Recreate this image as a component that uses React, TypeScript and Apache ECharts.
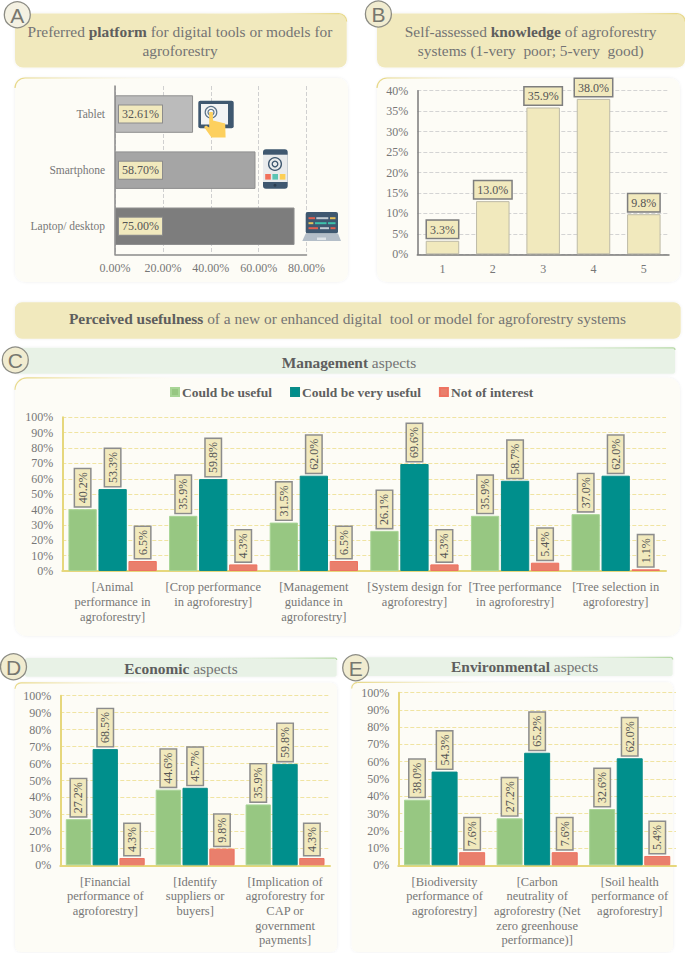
import React, { useEffect, useRef } from "react";
import * as echarts from "echarts";

const SERIF = "'Liberation Serif', 'Times New Roman', serif";
const SANS = "'Liberation Sans', Arial, sans-serif";

const platformCategories = ["Laptop/ desktop", "Smartphone", "Tablet"];
const platformValues = [75.0, 58.7, 32.61];
const platformTicks = [0, 20, 40, 60, 80];
const platformColors = ["#7d7d7d", "#a5a5a5", "#bbbbbb"];

const knowledgeCategories = ["1", "2", "3", "4", "5"];
const knowledgeValues = [3.3, 13.0, 35.9, 38.0, 9.8];

const seriesNames = ["Could be useful", "Could be very useful", "Not of interest"];
const seriesColors = ["#97c782", "#008f8c", "#e97f6c"];
const seriesBorders = ["#a8d596", "#0a8c88", "#ee7361"];

const managementCategories = [
  "[Animal\nperformance in\nagroforestry]",
  "[Crop performance\nin agroforestry]",
  "[Management\nguidance in\nagroforestry]",
  "[System design for\nagroforestry]",
  "[Tree performance\nin agroforestry]",
  "[Tree selection in\nagroforestry]",
];
const managementUseful = [40.2, 35.9, 31.5, 26.1, 35.9, 37.0];
const managementVeryUseful = [53.3, 59.8, 62.0, 69.6, 58.7, 62.0];
const managementNot = [6.5, 4.3, 6.5, 4.3, 5.4, 1.1];

const economicCategories = [
  "[Financial\nperformance of\nagroforestry]",
  "[Identify\nsuppliers or\nbuyers]",
  "[Implication of\nagroforestry for\nCAP or\ngovernment\npayments]",
];
const economicUseful = [27.2, 44.6, 35.9];
const economicVeryUseful = [68.5, 45.7, 59.8];
const economicNot = [4.3, 9.8, 4.3];

const environmentalCategories = [
  "[Biodiversity\nperformance of\nagroforestry]",
  "[Carbon\nneutrality of\nagroforestry (Net\nzero greenhouse\nperformance)]",
  "[Soil health\nperformance of\nagroforestry]",
];
const environmentalUseful = [38.0, 27.2, 32.6];
const environmentalVeryUseful = [54.3, 65.2, 62.0];
const environmentalNot = [7.6, 7.6, 5.4];

const CREAM = "#f1e9bd";
const GREY_TEXT = "#777777";
const TITLE_TEXT = "#747474";

const rich = {
  n: { fontFamily: SERIF, fontSize: 15.4, fill: TITLE_TEXT, lineHeight: 19 },
  b: { fontFamily: SERIF, fontSize: 15.4, fill: "#5e5e5e", fontWeight: "bold", lineHeight: 19 },
};

function titleText(x: number, y: number, text: string) {
  return {
    type: "text",
    z: 5,
    style: { x, y, text, rich, align: "center", verticalAlign: "middle", fontFamily: SERIF, fontSize: 15.4, fill: TITLE_TEXT },
  };
}

function box(x: number, y: number, w: number, h: number, fill: string, r: number, z = -10, shadow = "rgba(0,0,0,0.07)") {
  return {
    type: "rect",
    z,
    shape: { x, y, width: w, height: h, r },
    style: { fill, shadowBlur: 3, shadowColor: shadow },
  };
}

function edge(x1: number, x2: number, y: number, color: string, fromLeft: boolean) {
  const stops = fromLeft
    ? [{ offset: 0, color }, { offset: 1, color: "rgba(255,255,255,0)" }]
    : [{ offset: 0, color: "rgba(255,255,255,0)" }, { offset: 1, color }];
  return {
    type: "line",
    z: -9,
    shape: { x1, y1: y, x2, y2: y },
    style: {
      lineWidth: 1.2,
      stroke: new echarts.graphic.LinearGradient(x1, y, x2, y, stops, true),
    },
  };
}

function corner(cx: number, cy: number, rad: number, color: string, leftSide: boolean) {
  return {
    type: "arc",
    z: -9,
    shape: leftSide
      ? { cx, cy, r: rad, startAngle: Math.PI, endAngle: 1.5 * Math.PI, clockwise: true }
      : { cx, cy, r: rad, startAngle: 1.5 * Math.PI, endAngle: 2 * Math.PI, clockwise: true },
    style: { fill: "none", stroke: color, lineWidth: 1.2 },
  };
}

function badge(cx: number, cy: number, letter: string, fill: string) {
  return [
    {
      type: "circle",
      z: 6,
      shape: { cx, cy, r: 13 },
      style: { fill, stroke: "#8c8c84", lineWidth: 1.3 },
    },
    {
      type: "text",
      z: 7,
      style: {
        x: cx,
        y: cy + 0.5,
        text: letter,
        align: "center",
        verticalAlign: "middle",
        fontFamily: SANS,
        fontSize: 21,
        fill: "#77776f",
      },
    },
  ];
}

function r(x: number, y: number, w: number, h: number, fill: string, rad = 0) {
  return { type: "rect", z: 10, shape: { x, y, width: w, height: h, r: rad }, style: { fill } };
}

const NAVY = "#3f5870";

function icons() {
  return [
    // tablet
    r(198.3, 100.7, 35.4, 27.6, NAVY, 2),
    r(201, 104, 27, 20.5, "#f3f4f4"),
    { type: "circle", z: 11, shape: { cx: 211, cy: 112.3, r: 5.8 }, style: { fill: "none", stroke: "#5b7288", lineWidth: 1.2 } },
    { type: "circle", z: 11, shape: { cx: 211, cy: 112.3, r: 3 }, style: { fill: "none", stroke: "#5b7288", lineWidth: 1.2 } },
    {
      type: "polygon",
      z: 12,
      shape: {
        points: [[209.2, 112], [212.8, 112], [213, 120.5], [225.2, 123.5], [225.6, 137.5], [211.5, 137.5], [204, 127], [206, 125.5], [209.2, 127.5]],
      },
      style: { fill: "#fdd05e" },
    },
    // phone
    r(263, 149.3, 24.7, 39.4, NAVY, 3),
    r(263, 154.7, 24.7, 27.3, "#e9ebec"),
    { type: "circle", z: 11, shape: { cx: 275, cy: 164, r: 6.4 }, style: { fill: "none", stroke: NAVY, lineWidth: 1.3 } },
    { type: "circle", z: 11, shape: { cx: 275, cy: 164, r: 2.8 }, style: { fill: "none", stroke: NAVY, lineWidth: 1.3 } },
    r(265.2, 174, 5.6, 5.6, "#f2705a"),
    r(272.4, 174, 5.6, 5.6, "#5cc4b4"),
    r(279.8, 174, 5.6, 5.6, "#fccf55"),
    { type: "circle", z: 11, shape: { cx: 275, cy: 185.3, r: 1.5 }, style: { fill: "#2c3e50" } },
    // laptop
    r(305.7, 212, 32.3, 21.5, NAVY, 2),
    { type: "polygon", z: 10, shape: { points: [[305.7, 233.5], [338, 233.5], [341, 241], [302.3, 241]] }, style: { fill: "#b4bec8" } },
    r(317, 237.5, 9, 2.5, "#dfe4e8"),
    r(308.5, 217.2, 6.5, 2, "#e2604f"),
    r(316.3, 217.2, 12, 2, "#c3ccd3"),
    r(330, 217.2, 5.5, 2, "#e8c25a"),
    r(308.5, 222.2, 4.8, 2, "#e8c25a"),
    r(315, 222.2, 11.5, 2, "#3ec2ac"),
    r(328, 222.2, 7.5, 2, "#3ec2ac"),
    r(308.5, 227.2, 9.5, 2, "#e2604f"),
    r(320, 227.2, 9, 2, "#c3ccd3"),
    r(330.5, 227.2, 5, 2, "#e2604f"),
  ];
}

function decor() {
  const panel = "#fdfcf6";
  const gold = "#e8d98a";
  const green = "#b6d9a6";
  const mint = "#e8f2e6";
  return [
    // A
    box(15, 13.5, 331.7, 54, CREAM, 8),
    edge(200, 339, 13.6, gold, false),
    corner(338.7, 21.5, 8, gold, false),
    box(15, 78, 333, 204, panel, 10),
    edge(25, 190, 78, gold, true),
    corner(25, 88, 10, gold, true),
    ...badge(17.3, 14.7, "A", "#f4f1e2"),
    titleText(180, 40.5, "{n|Preferred }{b|platform}{n| for digital tools or models for}\n{n|agroforestry}"),
    // B
    box(377, 13.5, 308, 54, CREAM, 8),
    edge(540, 677, 13.6, gold, false),
    corner(677, 21.5, 8, gold, false),
    box(377, 78, 303, 204, panel, 10),
    edge(387, 540, 78, gold, true),
    corner(387, 88, 10, gold, true),
    ...badge(378.4, 14, "B", "#f1ecd0"),
    titleText(530.7, 40.5, "{n|Self-assessed }{b|knowledge}{n| of agroforestry}\n{n|systems (1-very  poor; 5-very  good)}"),
    // banner
    box(15, 302.3, 665.7, 36.4, CREAM, 7),
    titleText(347.5, 318.3, "{b|Perceived usefulness}{n| of a new or enhanced digital  tool or model for agroforestry systems}"),
    // C
    box(15, 347.7, 660, 26, mint, 2),
    edge(420, 673, 347.9, green, false),
    corner(673, 349.9, 2, green, false),
    box(15, 377.7, 665, 258.3, panel, 12),
    edge(27, 200, 377.8, gold, true),
    corner(27, 389.8, 12, gold, true),
    ...badge(15.3, 360, "C", "#f1ecd0"),
    titleText(349, 362.7, "{b|Management}{n| aspects}"),
    // D
    box(25, 658, 311.7, 18.7, mint, 2),
    edge(180, 334.7, 658.1, green, false),
    corner(334.7, 660.1, 2, green, false),
    box(15, 682.7, 322, 269.3, panel, 6),
    edge(21, 180, 682.8, gold, true),
    corner(21, 688.8, 6, gold, true),
    ...badge(13.5, 666.7, "D", "#f1ecd0"),
    titleText(181, 668.3, "{b|Economic}{n| aspects}"),
    // E
    box(365, 657.3, 307.7, 18.7, mint, 2),
    edge(520, 670.7, 657.4, green, false),
    corner(670.7, 659.4, 2, green, false),
    box(351.7, 682.3, 321.3, 269.7, panel, 6),
    edge(357.7, 520, 682.4, gold, true),
    corner(357.7, 688.4, 6, gold, true),
    ...badge(355.7, 667.7, "E", "#f1ecd0"),
    titleText(524.7, 666.7, "{b|Environmental}{n| aspects}"),
    ...icons(),
  ];
}

function groupedBars(gridIndex: number, barWidth: number, values: number[][]) {
  return values.map((data, i) => ({
    name: seriesNames[i],
    type: "bar",
    xAxisIndex: gridIndex,
    yAxisIndex: gridIndex,
    data,
    barWidth,
    barGap: "6%",
    itemStyle: { color: seriesColors[i], borderColor: seriesBorders[i], borderWidth: 1 },
    label: {
      show: true,
      position: "top",
      rotate: 90,
      align: "left",
      verticalAlign: "middle",
      distance: 3,
      formatter: (p: any) => `${p.value.toFixed(1)}%`,
      fontFamily: SERIF,
      fontSize: 12,
      color: "#555555",
      backgroundColor: CREAM,
      borderColor: "#8c8c8c",
      borderWidth: 1.5,
      padding: [2, 3, 1, 3],
    },
  }));
}

function goldValueAxis(gridIndex: number) {
  return {
    type: "value",
    gridIndex,
    min: 0,
    max: 100,
    interval: 10,
    axisLine: { show: true, lineStyle: { color: "#e6d77c", width: 2 } },
    axisTick: { show: false },
    axisLabel: { formatter: "{value}%", fontFamily: SERIF, fontSize: 12, color: GREY_TEXT, margin: 9 },
    splitLine: { show: true, lineStyle: { color: "#f0e4a2", type: "dashed", width: 1 } },
  };
}

function goldCategoryAxis(gridIndex: number, data: string[]) {
  return {
    type: "category",
    gridIndex,
    data,
    axisLine: { show: true, lineStyle: { color: "#e6d77c", width: 2 } },
    axisTick: { show: false },
    axisLabel: {
      interval: 0,
      fontFamily: SERIF,
      fontSize: 12.5,
      lineHeight: 14.7,
      color: GREY_TEXT,
      margin: 9,
    },
  };
}

export default function App() {
  const ref = useRef<HTMLDivElement>(null);

  useEffect(() => {
    if (!ref.current) return;
    const chart = echarts.init(ref.current, undefined, { renderer: "svg", width: 685, height: 953 });
    chart.setOption({
      animation: false,
      backgroundColor: "#ffffff",
      graphic: { elements: decor() },
      legend: {
        data: seriesNames,
        left: 165,
        top: 380,
        itemWidth: 8,
        itemHeight: 8,
        itemGap: 18,
        icon: "rect",
        selectedMode: false,
        textStyle: {
          fontFamily: SERIF,
          fontSize: 13.5,
          fontWeight: "bold",
          color: "#5f5f5f",
          padding: [0, 0, 0, -2],
        },
      },
      grid: [
        { left: 115, top: 86, width: 191.5, height: 168.3 },
        { left: 417.3, top: 90.7, width: 251.7, height: 163.6 },
        { left: 62.3, top: 417.3, width: 603.7, height: 153.7 },
        { left: 60.3, top: 695.7, width: 269.7, height: 169.6 },
        { left: 398.3, top: 692.7, width: 277.7, height: 172.6 },
      ],
      xAxis: [
        {
          type: "value",
          gridIndex: 0,
          min: platformTicks[0],
          max: platformTicks[platformTicks.length - 1],
          interval: platformTicks[1] - platformTicks[0],
          axisLine: { show: true, lineStyle: { color: "#8a8a8a", width: 1.5 } },
          axisTick: { show: false },
          axisLabel: {
            formatter: (v: number) => `${v.toFixed(2)}%`,
            fontFamily: SERIF,
            fontSize: 12,
            color: GREY_TEXT,
            margin: 8,
          },
          splitLine: { show: true, lineStyle: { color: "#d0d0d0", type: "dashed", width: 1 } },
        },
        {
          type: "category",
          gridIndex: 1,
          data: knowledgeCategories,
          axisLine: { show: true, lineStyle: { color: "#7a7a7a", width: 1.5 } },
          axisTick: { show: false },
          axisLabel: { fontFamily: SERIF, fontSize: 12, color: GREY_TEXT, margin: 9 },
        },
        goldCategoryAxis(2, managementCategories),
        goldCategoryAxis(3, economicCategories),
        goldCategoryAxis(4, environmentalCategories),
      ],
      yAxis: [
        {
          type: "category",
          gridIndex: 0,
          data: platformCategories,
          axisLine: { show: true, lineStyle: { color: "#8a8a8a", width: 1.5 } },
          axisTick: { show: false },
          axisLabel: { fontFamily: SERIF, fontSize: 11.5, color: GREY_TEXT, margin: 10 },
        },
        {
          type: "value",
          gridIndex: 1,
          min: 0,
          max: 40,
          interval: 5,
          axisLine: { show: true, lineStyle: { color: "#7a7a7a", width: 1.5 } },
          axisTick: { show: false },
          axisLabel: { formatter: "{value}%", fontFamily: SERIF, fontSize: 12, color: GREY_TEXT, margin: 9 },
          splitLine: { show: true, lineStyle: { color: "#d4d4d4", type: "dashed", width: 1 } },
        },
        goldValueAxis(2),
        goldValueAxis(3),
        goldValueAxis(4),
      ],
      series: [
        {
          type: "bar",
          xAxisIndex: 0,
          yAxisIndex: 0,
          data: platformValues,
          barWidth: 37.5,
          itemStyle: {
            color: (p: any) => platformColors[p.dataIndex],
            borderColor: "#8f8f8f",
            borderWidth: 1,
          },
          label: {
            show: true,
            position: "insideLeft",
            distance: 4,
            formatter: (p: any) => `${p.value.toFixed(2)}%`,
            fontFamily: SERIF,
            fontSize: 12,
            color: "#555555",
            backgroundColor: CREAM,
            borderColor: "#8c8c8c",
            borderWidth: 1,
            padding: [3, 3, 2, 3],
          },
        },
        {
          type: "bar",
          xAxisIndex: 1,
          yAxisIndex: 1,
          data: knowledgeValues,
          barWidth: 33.5,
          itemStyle: { color: CREAM, borderColor: "#bdbaa6", borderWidth: 1 },
          label: {
            show: true,
            position: "top",
            distance: 3,
            formatter: (p: any) => `${p.value.toFixed(1)}%`,
            fontFamily: SERIF,
            fontSize: 12,
            color: "#555555",
            backgroundColor: CREAM,
            borderColor: "#7e7e7e",
            borderWidth: 1.5,
            padding: [3, 3, 2, 3],
          },
        },
        ...groupedBars(2, 28.3, [managementUseful, managementVeryUseful, managementNot]),
        ...groupedBars(3, 25.3, [economicUseful, economicVeryUseful, economicNot]),
        ...groupedBars(4, 26, [environmentalUseful, environmentalVeryUseful, environmentalNot]),
      ],
    });
    return () => chart.dispose();
  }, []);

  return (
    <div
      ref={ref}
      style={{ position: "absolute", left: 0, top: 0, width: 685, height: 953 }}
    />
  );
}
